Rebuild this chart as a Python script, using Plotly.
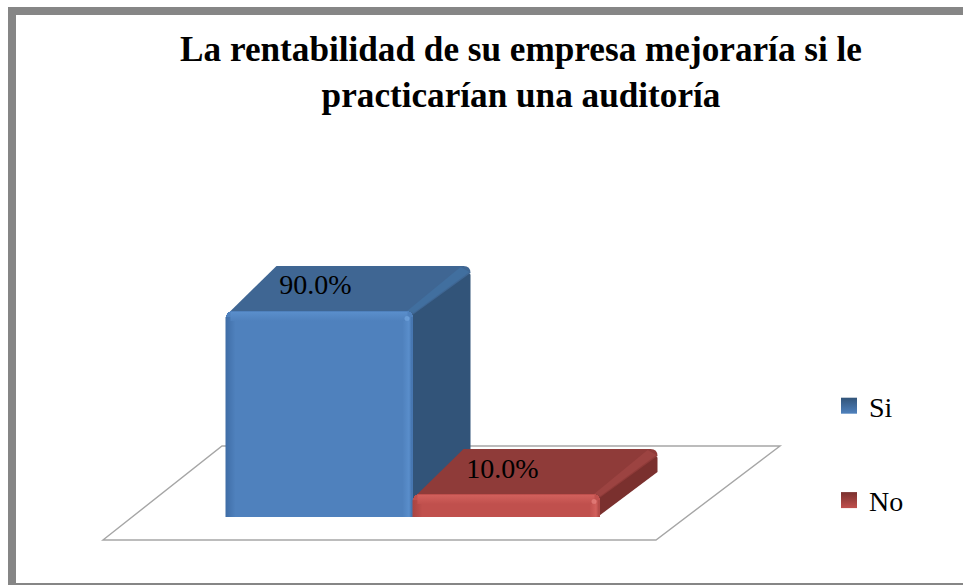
import plotly.graph_objects as go

categories = ["Si", "No"]
values = [90, 10]
title_lines = ["La rentabilidad de su empresa mejoraría si le", "practicarían una auditoría"]

FRONT = ["#4f81bd", "#c0504d"]
LIGHT = ["#5a8ecb", "#d2605c"]
DARK = ["#3f6da6", "#a84441"]
TOP = ["#3f6693", "#8f3b39"]
RIDGE = ["#416f9f", "#9c4341"]
SIDE = ["#325479", "#7a302e"]
SPOT = ["#74a6e0", "#e88480"]

W, H = 963, 585
PXU, PYU = 187.0, 2.289          # pixels per category / per percent
X0PX, Y0PX = 319.0, 517.0        # pixel position of category 0 / value 0
DX, DY = 58 / PXU, 45 / PYU      # oblique depth of a bar
px, py = 1 / PXU, 1 / PYU


def poly(points, fill):
    d = "M" + " L".join(f"{x:.4f},{y:.4f}" for x, y in points) + " Z"
    return dict(type="path", path=d, xref="x", yref="y", fillcolor=fill,
                line=dict(width=0), layer="below")


shapes = []
# floor
fx = lambda p: (p - X0PX) / PXU
fy = lambda p: (Y0PX - p) / PYU
shapes.append(dict(type="path", xref="x", yref="y", layer="below", fillcolor="rgba(0,0,0,0)",
                   line=dict(color="#a6a6a6", width=1.4),
                   path=f"M{fx(103)},{fy(540)} L{fx(656)},{fy(540)} L{fx(780)},{fy(446)} L{fx(222)},{fy(446)} Z"))

HALF = 0.5
for i, v in enumerate(values):
    l, r = i - HALF, i + HALF
    top = v
    r2, t2 = r + DX, top + DY
    c = 7 * px
    cy = 7 * py
    # side face
    shapes.append(poly([(r - 2 * px, 0), (r - 2 * px, top), (r2 - c * .3, t2 - cy), (r2, t2 - cy * 1.2), (r2, DY)], SIDE[i]))
    # top face with rounded back corners
    d = (f"M{l + 1 * px:.4f},{top - 4 * py:.4f} L{l + DX - c:.4f},{t2:.4f} L{r2 - c:.4f},{t2:.4f} "
         f"Q{r2:.4f},{t2:.4f} {r2:.4f},{t2 - cy:.4f} L{r:.4f},{top - 4 * py:.4f} Z")
    shapes.append(dict(type="path", path=d, xref="x", yref="y", fillcolor=TOP[i], line=dict(width=0), layer="below"))
    # lighter ridge between top and side
    rw = 9 * px
    shapes.append(poly([(r - rw * .6, top), (r2 - rw * 1.1, t2 - 1 * py), (r2 - 1 * px, t2 - 6 * py), (r + 1 * px, top - 2 * py)], RIDGE[i]))
    # specular spot at the front corner
    shapes.append(dict(type="circle", xref="x", yref="y", layer="above", fillcolor=SPOT[i], opacity=0.7,
                       line=dict(width=0), x0=r - 8 * px, x1=r - 3 * px, y0=top - 10 * py, y1=top - 5 * py))

# frame
for x0, x1, y0, y1 in [(8, 963, 7, 15), (8, 16, 7, 585), (8, 963, 583, 585)]:
    shapes.append(dict(type="rect", xref="paper", yref="paper", x0=x0 / W, x1=x1 / W,
                       y0=1 - y0 / H, y1=1 - y1 / H, fillcolor="#868686", line=dict(width=0), layer="above"))

fig = go.Figure()

# front faces
fig.add_trace(go.Bar(x=list(range(len(values))), y=values, marker=dict(color=FRONT, line=dict(width=0)),
                     showlegend=False, hoverinfo="skip"))

# bevels on the front faces
BV = 10
for i, v in enumerate(values):
    l, r = i - HALF, i + HALF
    top = v
    bw, bh = BV * px, BV * py
    side_top = top - 6 * py
    for xs, ys, grad in [
        ([l, l + bw, l + bw, l], [0, 0, side_top, side_top],
         dict(type="horizontal", colorscale=[[0, DARK[i]], [1, FRONT[i]]])),
        ([r - bw, r, r, r - bw], [0, 0, side_top, side_top],
         dict(type="horizontal", colorscale=[[0, FRONT[i]], [0.65, LIGHT[i]], [1, DARK[i]]])),
        ([l + 5 * px, r - 5 * px, r - 5 * px, l + 5 * px], [top - bh, top - bh, top - 1 * py, top - 1 * py],
         dict(type="vertical", colorscale=[[0, FRONT[i]], [1, LIGHT[i]]])),
    ]:
        fig.add_trace(go.Scatter(x=xs + xs[:1], y=ys + ys[:1], mode="none", fill="toself", fillgradient=grad,
                                 showlegend=False, hoverinfo="skip"))

# data labels
fig.add_trace(go.Scatter(x=[i - 3.5 * px for i in range(len(values))],
                         y=[v + 23.5 * py for v in values],
                         mode="text", text=[f"{v:.1f}%" for v in values],
                         textposition="middle center", textfont=dict(family="Liberation Serif", size=28, color="#000000"),
                         showlegend=False, hoverinfo="skip"))

# legend entries
for i, name in enumerate(categories):
    fig.add_trace(go.Scatter(x=[None], y=[None], mode="markers", name=name, legendgroup=name,
                             marker=dict(symbol="square", size=16, color=SIDE[i],
                                         gradient=dict(type="vertical", color=FRONT[i]),
                                         line=dict(width=0))))

fig.update_layout(
    width=W, height=H, autosize=False,
    margin=dict(l=0, r=0, t=0, b=0),
    paper_bgcolor="#ffffff", plot_bgcolor="#ffffff",
    bargap=0, barcornerradius=6,
    shapes=shapes,
    title=dict(text="<br>".join(title_lines), x=521 / W, xanchor="center", y=1 - 61 / H, yanchor="middle",
               font=dict(family="Liberation Serif", size=35.2, color="#000000", weight="bold")),
    xaxis=dict(range=[-X0PX / PXU, (W - X0PX) / PXU], visible=False, fixedrange=True),
    yaxis=dict(range=[(Y0PX - H) / PYU, Y0PX / PYU], visible=False, fixedrange=True),
    legend=dict(x=829 / W, y=1 - 381 / H, xanchor="left", yanchor="top", tracegroupgap=55,
                font=dict(family="Liberation Serif", size=28, color="#000000"),
                bgcolor="rgba(0,0,0,0)", borderwidth=0),
    showlegend=True,
)

fig.write_html("out.html", config=dict(displayModeBar=False),
               post_script="document.body.style.margin='0';document.body.style.overflow='hidden';")
